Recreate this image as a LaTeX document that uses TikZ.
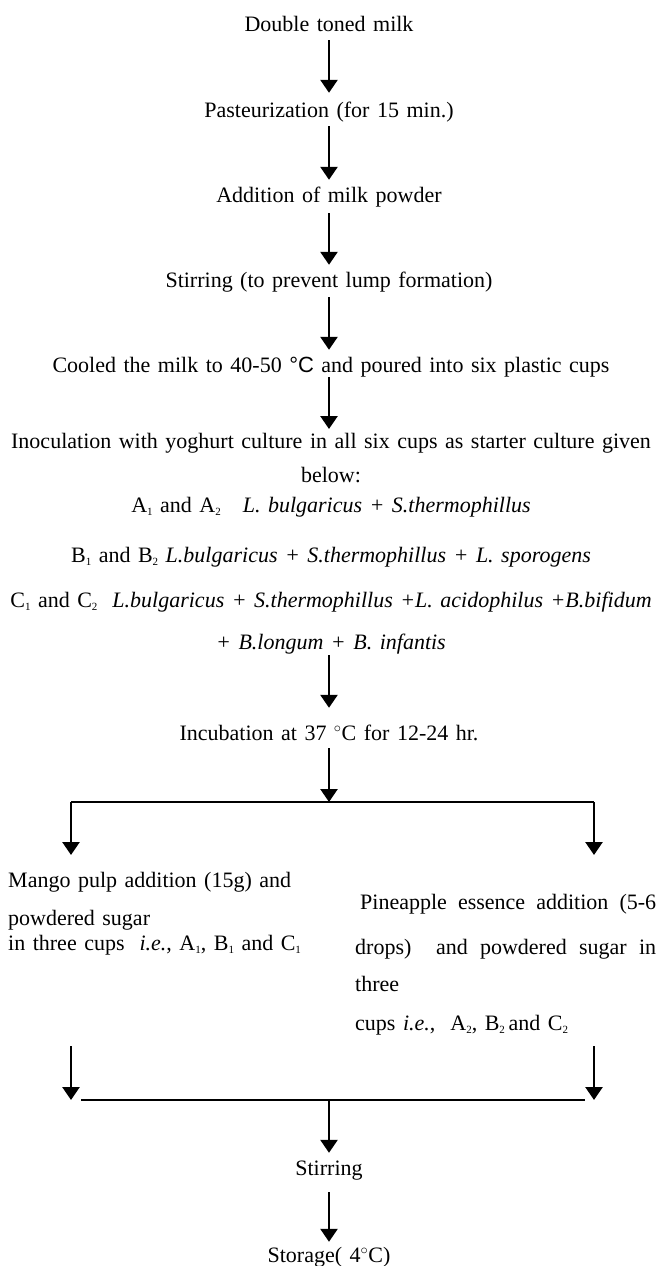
\documentclass[tikz,border=0pt]{standalone}
\usepackage{fontspec}
\setmainfont{Liberation Serif}
\newfontfamily\degfont{Liberation Sans}
\usetikzlibrary{arrows.meta}
\newcommand\lowsub[1]{\raisebox{-3.5pt}{\fontsize{11}{11}\selectfont #1}}

\begin{document}
\begin{tikzpicture}[
x=1pt, y=1pt,
every node/.style={inner sep=0pt, font={\fontsize{22}{26}\selectfont\spaceskip=7.5pt plus 3pt minus 1pt}},
stage/.style={text height=15pt, text depth=5pt},
flow/.style={line width=2.6pt, -{Triangle[width=17pt,length=13pt]}},
rule/.style={line width=1.2pt}
]
\useasboundingbox (0,0) rectangle (658,-1266);

\node[stage] (milk) at (329,-26) {Double toned milk};
\node[stage] (pasteur) at (329,-112) {Pasteurization (for 15 min.)};
\node[stage] (powder) at (329,-197) {Addition of milk powder};
\node[stage] (stirA) at (329,-282) {Stirring (to prevent lump formation)};
\node[stage] (cool) at (331,-367) {Cooled the milk to 40-50 {\degfont °C} and poured into six plastic cups};
\node[anchor=north, align=center] (inoc) at (331,-433) {Inoculation with yoghurt culture in all six cups as starter culture given\\[8pt]
below:\\[4pt]
A\lowsub{1} and A\lowsub{2}\quad\textit{L. bulgaricus + S.thermophillus}\\[24pt]
B\lowsub{1} and B\lowsub{2} \textit{L.bulgaricus + S.thermophillus + L. sporogens}\\[19pt]
C\lowsub{1} and C\lowsub{2}\ \ \textit{L.bulgaricus + S.thermophillus +L. acidophilus +B.bifidum}\\[16pt]
\textit{+ B.longum + B. infantis}};
\node[stage] (incub) at (329,-735) {Incubation at 37 $^{\circ}$C for 12-24 hr.};
\node[anchor=north west, align=left] (mango) at (8,-872) {Mango pulp addition (15g) and\\[12pt]
powdered sugar\\[-1pt]
in three cups\ \ \textit{i.e.}, A\lowsub{1}, B\lowsub{1} and C\lowsub{1}};
\node[anchor=north west, align=left] (pine) at (355,-894) {\makebox[301pt][s]{\hspace{5pt}Pineapple essence addition (5-6}\\[19pt]
\makebox[301pt][s]{drops)\ \ and powdered sugar in}\\[11pt]
three\\[13pt]
cups \textit{i.e.},\ \ A\lowsub{2}, B\lowsub{2}\,and C\lowsub{2}};
\node[stage] (stirB) at (329,-1170) {Stirring};
\node[stage] (store) at (329,-1257) {Storage( 4$^{\circ}$C)};

\coordinate (split) at (329,-802);
\coordinate (splitL) at (71,-802);
\coordinate (splitR) at (594,-802);
\coordinate (join) at (329,-1100);
\coordinate (joinL) at (71,-1100);
\coordinate (joinR) at (594,-1100);

\draw[flow, shorten <=4pt, shorten >=9pt] (milk.south) -- (pasteur.north);
\draw[flow, shorten <=4pt, shorten >=7pt] (pasteur.south) -- (powder.north);
\draw[flow, shorten <=6pt, shorten >=7pt] (powder.south) -- (stirA.north);
\draw[flow, shorten <=5pt, shorten >=7pt] (stirA.south) -- (stirA.south |- cool.north);
\draw[flow, shorten >=4pt] (cool.south -| milk.south) -- (milk.south |- inoc.north);
\draw[flow, shorten <=1pt, shorten >=17pt] (inoc.south -| milk.south) -- (incub.north);
\draw[flow, shorten <=3pt] (incub.south) -- (split);
\draw[rule] (splitL) -- (splitR);
\draw[flow, shorten >=17pt] (splitL) -- (splitL |- mango.north);
\draw[flow, shorten >=17pt] (splitR) -- (splitR |- mango.north);
\draw[flow, shorten <=11pt] (pine.south -| joinL) -- (joinL);
\draw[flow, shorten <=11pt] (pine.south -| joinR) -- (joinR);
\draw[rule, shorten <=10pt, shorten >=9pt] (joinL) -- (joinR);
\draw[flow, shorten >=7pt] (join) -- (stirB.north);
\draw[flow, shorten <=12pt, shorten >=5pt] (stirB.south) -- (store.north);
\end{tikzpicture}
\end{document}
